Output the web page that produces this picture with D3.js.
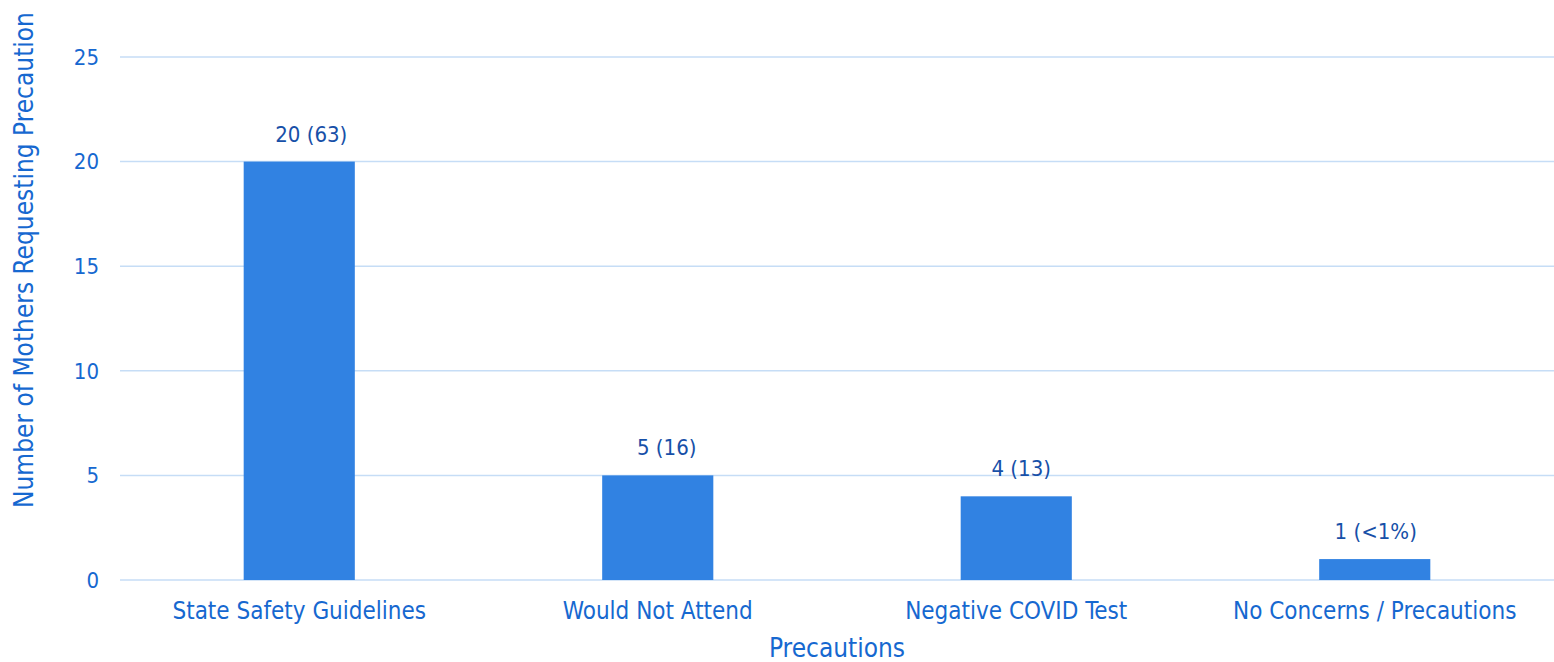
<!DOCTYPE html>
<html>
<head>
<meta charset="utf-8">
<script src="https://cdn.jsdelivr.net/npm/d3@7"></script>
<style>
  body { margin: 0; background: #fff; }
  text { font-family: "DejaVu Sans Condensed", "DejaVu Sans", sans-serif; font-stretch: condensed; }
</style>
</head>
<body>
<svg id="chart" width="1554" height="662"></svg>
<script>
// chart data
const categories = ['State Safety Guidelines', 'Would Not Attend', 'Negative COVID Test', 'No Concerns / Precautions'];
const counts = [20, 5, 4, 1];
const valueLabels = ['20 (63)', '5 (16)', '4 (13)', '1 (<1%)'];
const yTicks = [0, 5, 10, 15, 20, 25];

const svg = d3.select('#chart');
const margin = { left: 120, right: 0, top: 57, bottom: 82 };
const width = +svg.attr('width');
const height = +svg.attr('height');

const x = d3.scaleBand()
  .domain(categories)
  .range([margin.left, width - margin.right])
  .paddingInner(0.69)
  .paddingOuter(0.345);

const y = d3.scaleLinear()
  .domain([0, 25])
  .range([height - margin.bottom, margin.top]);

// gridlines
svg.append('g')
  .selectAll('line')
  .data(yTicks)
  .enter()
  .append('line')
  .attr('x1', margin.left)
  .attr('x2', width - margin.right)
  .attr('y1', d => y(d))
  .attr('y2', d => y(d))
  .attr('stroke', '#c6ddf6')
  .attr('stroke-width', 1.5);

// y tick labels
svg.append('g')
  .selectAll('text')
  .data(yTicks)
  .enter()
  .append('text')
  .attr('x', 99)
  .attr('y', d => y(d))
  .attr('dy', '0.35em')
  .attr('text-anchor', 'end')
  .attr('fill', '#1668d0')
  .style('font-size', '22px')
  .text(d => d);

// bars
const data = categories.map((c, i) => ({ cat: c, val: counts[i], label: valueLabels[i] }));

svg.append('g')
  .selectAll('rect')
  .data(data)
  .enter()
  .append('rect')
  .attr('x', d => x(d.cat))
  .attr('y', d => y(d.val))
  .attr('width', x.bandwidth())
  .attr('height', d => y(0) - y(d.val))
  .attr('fill', '#3182e2');

// value labels (labels sit a little right of bar centre in the original)
const labelNudge = [12, 9, 5, 1];
svg.append('g')
  .selectAll('text')
  .data(data)
  .enter()
  .append('text')
  .attr('x', (d, i) => x(d.cat) + x.bandwidth() / 2 + labelNudge[i])
  .attr('y', d => y(d.val) - 20)
  .attr('text-anchor', 'middle')
  .attr('fill', '#1750a8')
  .style('font-size', '22px')
  .text(d => d.label);

// category labels
svg.append('g')
  .selectAll('text')
  .data(categories)
  .enter()
  .append('text')
  .attr('x', d => x(d) + x.bandwidth() / 2)
  .attr('y', 619)
  .attr('text-anchor', 'middle')
  .attr('fill', '#1668d0')
  .style('font-size', '24px')
  .text(d => d);

// axis titles
svg.append('text')
  .attr('x', (margin.left + width) / 2)
  .attr('y', 657)
  .attr('text-anchor', 'middle')
  .attr('fill', '#1668d0')
  .style('font-size', '26px')
  .text('Precautions');

svg.append('text')
  .attr('transform', 'translate(33,260) rotate(-90)')
  .attr('text-anchor', 'middle')
  .attr('fill', '#1668d0')
  .style('font-size', '26px')
  .text('Number of Mothers Requesting Precaution');
</script>
</body>
</html>
